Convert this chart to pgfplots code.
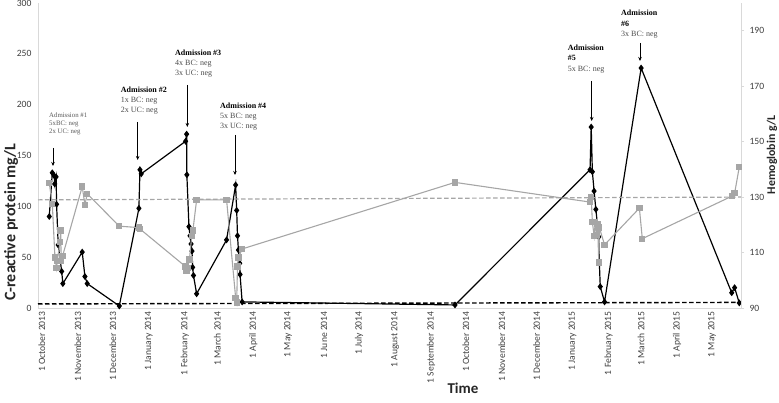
\documentclass[border=0pt]{standalone}
\usepackage{pgfplots}
\pgfplotsset{compat=1.18}
\usepackage{fontspec}
\setmainfont{Carlito}
\newfontfamily\tnr{Liberation Serif}
\usetikzlibrary{arrows.meta}
\definecolor{hbgray}{RGB}{166,166,166}
\definecolor{axgray}{RGB}{217,217,217}
\pgfplotstableread{
day crp
6.3 90
8.9 133
10.6 130
11.0 122
12.2 129
12.6 102
14.0 62
17.0 36
18.0 24
34.7 55
37.0 31
39.0 24
66.6 2
83.5 98
84.4 136
85.5 132
123.7 164
124.6 171
124.8 131
126.6 80
127.5 71
128.4 63
129.2 56
129.8 40
130.5 32
133.2 14
159.0 67
166.8 121
167.7 96
168.4 71
169.2 57
170.3 44
170.6 33
172.4 6
355.7 3
472.0 136
473.0 178
474.0 134
475.5 115
477.0 97
478.5 81
479.5 70
480.0 45
480.8 21
484.5 6
516.0 236
594.0 15
596.5 20
600.5 5
}\crpdata
\pgfplotstableread{
day hb
6.3 135
8.9 127.6
11.2 108.2
12.6 104.4
13.2 107
15.5 113.7
16.1 117.9
16.6 107
17.8 108.8
34.7 133.8
37.0 127.2
39.0 131.2
66.6 119.5
83.5 119
84.4 118.5
123.5 105
124.5 103.5
125.5 104.5
127.0 107.5
129.0 116
130.0 118
133.2 129
159.0 129
166.8 93.7
167.7 92
168.4 105
169.2 108.2
172.4 111.3
355.7 135.3
472.0 128.2
473.0 130
474.0 121
475.5 116
476.5 121
477.5 116.4
478.5 120.3
479.5 106.4
480.0 119
484.5 112.8
514.5 126
517.0 115
594.0 130.3
596.5 131.4
600.5 140.8
}\hbdata
\begin{document}
\begin{tikzpicture}[x=1pt,y=1pt]
\path[use as bounding box] (0,0) rectangle (779,403);
\pgfplotsset{
  base/.style={
    at={(38pt,95pt)}, anchor=south west, scale only axis,
    width=703pt, height=305pt,
    xmin=-3.4, xmax=602, clip=false,
    /pgf/number format/assume math mode=true,
    tick label style={font=\fontsize{9.6}{10}\selectfont, text=black!75},
  }}
\begin{axis}[base,
  ymin=0, ymax=300,
  axis x line*=bottom, axis y line*=left,
  axis line style={axgray, line width=0.8pt},
  major tick length=0pt,
  ytick={0,50,...,300},
  yticklabel style={xshift=-3pt},
  xtick={0,31,61,92,123,151,182,212,243,273,304,335,365,396,426,457,488,516,547,577},
  xticklabels={1 October 2013,1 November 2013,1 December 2013,1 January 2014,1 February 2014,1 March 2014,1 April 2014,1 May 2014,1 June 2014,1 July 2014,1 August 2014,1 September 2014,1 October 2014,1 November 2014,1 December 2014,1 January 2015,1 February 2015,1 March 2015,1 April 2015,1 May 2015},
  xticklabel style={rotate=90, anchor=east, xshift=0pt, yshift=0pt},
]
\addplot[black, line width=1.4pt, dash pattern=on 4.5pt off 2.5pt] coordinates {(-3.4,4) (602,5.5)};
\addplot[black, line width=1.2pt, mark=diamond*, mark size=2.5pt, mark options={solid}] table[x=day, y=crp] {\crpdata};
\end{axis}
\begin{axis}[base,
  ymin=90, ymax=200,
  axis x line=none, axis y line*=right,
  axis line style={axgray, line width=0.8pt},
  ytick={90,110,...,190},
  ytick style={axgray, line width=0.8pt},
  major tick length=3pt,
  yticklabel style={xshift=2pt},
  tick align=outside,
]
\addplot[hbgray, line width=1.2pt, dash pattern=on 4.5pt off 2.5pt] coordinates {(-3.4,129) (602,130)};
\addplot[hbgray, line width=1.1pt, mark=square*, mark size=2.6pt, mark options={solid}] table[x=day, y=hb] {\hbdata};
\end{axis}
% axis titles
\node[rotate=90, font=\bfseries\fontsize{16}{16}\selectfont, text=black!85] at (11,181) {C-reactive protein mg/L};
\node[rotate=90, font=\bfseries\fontsize{11.8}{12}\selectfont, text=black!85] at (772,248) {Hemoglobin g/L};
\node[font=\bfseries\fontsize{15}{15}\selectfont, text=black!85] at (463,15) {Time};
% annotations
\node[anchor=north west, inner sep=0pt, align=left, font=\tnr\fontsize{6.8}{8}\selectfont, text=black!65] at (49,290.5) {Admission \#1\\5xBC: neg\\2x UC: neg};
\node[anchor=north west, inner sep=0pt, align=left, font=\tnr\fontsize{8}{10}\selectfont, text=black!70] at (120.7,316) {\textcolor{black}{\textbf{Admission \#2}}\\1x BC: neg\\2x UC: neg};
\node[anchor=north west, inner sep=0pt, align=left, font=\tnr\fontsize{8}{10}\selectfont, text=black!70] at (175,353) {\textcolor{black}{\textbf{Admission \#3}}\\4x BC: neg\\3x UC: neg};
\node[anchor=north west, inner sep=0pt, align=left, font=\tnr\fontsize{8}{10}\selectfont, text=black!70] at (220,300) {\textcolor{black}{\textbf{Admission \#4}}\\5x BC: neg\\3x UC: neg};
\node[anchor=north west, inner sep=0pt, align=left, font=\tnr\fontsize{8}{10.5}\selectfont, text=black!70] at (567.7,358.5) {\textcolor{black}{\textbf{Admission}}\\\textcolor{black}{\textbf{\#5}}\\5x BC: neg};
\node[anchor=north west, inner sep=0pt, align=left, font=\tnr\fontsize{8}{10.5}\selectfont, text=black!70] at (621,393) {\textcolor{black}{\textbf{Admission}}\\\textcolor{black}{\textbf{\#6}}\\3x BC: neg};
\begin{scope}[line width=0.9pt, -{Stealth[length=4pt, width=3.5pt]}]
\draw (53,255) -- (53,237);
\draw (137.7,281) -- (137.7,243);
\draw (187.3,318) -- (187.3,276);
\draw (235,268) -- (235,228);
\draw (591.7,322) -- (591.7,282);
\draw (640,360) -- (640,342);
\end{scope}
\end{tikzpicture}
\end{document}
